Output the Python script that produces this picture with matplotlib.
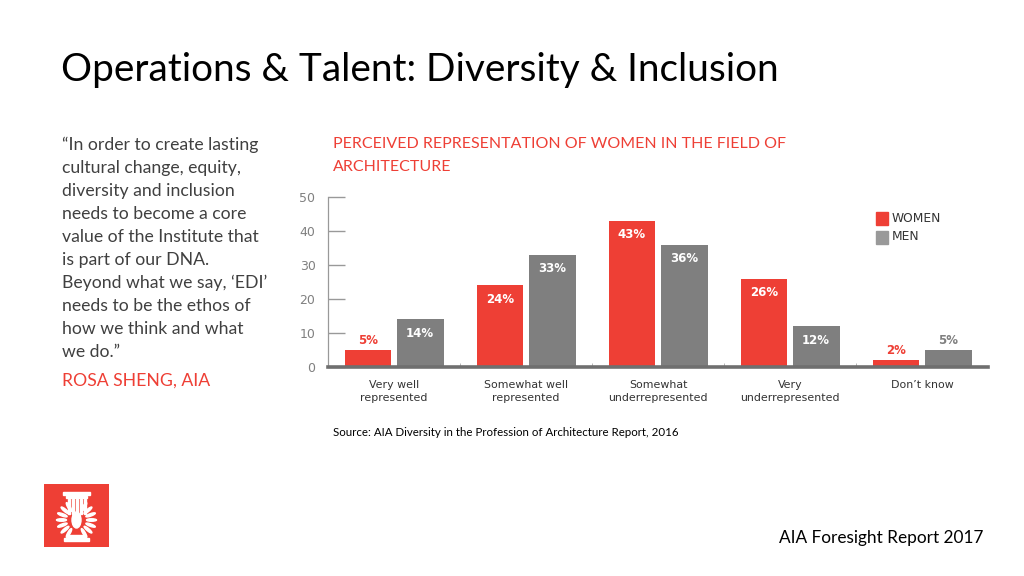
import numpy as np
import matplotlib.pyplot as plt
from matplotlib.patches import Rectangle, Ellipse

categories = ["Very well\nrepresented", "Somewhat well\nrepresented", "Somewhat\nunderrepresented",
              "Very\nunderrepresented", "Don\u2019t know"]
women = [5, 24, 43, 26, 2]
men = [14, 33, 36, 12, 5]
yticks = [0, 10, 20, 30, 40, 50]

quote = ["\u201cIn order to create lasting",
         "cultural change, equity,",
         "diversity and inclusion",
         "needs to become a core",
         "value of the Institute that",
         "is part of our DNA.",
         "Beyond what we say, \u2018EDI\u2019",
         "needs to be the ethos of",
         "how we think and what",
         "we do.\u201d"]

RED = "#ee3f35"
GRAY = "#7f7f7f"
TXT = "#404040"
W, H = 1024, 576

fig = plt.figure(figsize=(10.24, 5.76), dpi=100)
fig.patch.set_facecolor("white")

def fx(px):
    return px / W

def fy(py):
    return 1 - py / H

# slide texts
fig.text(fx(61), fy(70), "Operations & Talent: Diversity & Inclusion", family="Lato",
         fontsize=27.9, color="black", va="center", ha="left")
for i, line in enumerate(quote):
    fig.text(fx(62), fy(145 + 23 * i), line, family="Lato", fontsize=12.7,
             color=TXT, va="center", ha="left")
fig.text(fx(62), fy(381), "ROSA SHENG, AIA", family="Lato", fontsize=12.7,
         color=RED, va="center")
fig.text(fx(333), fy(144), "PERCEIVED REPRESENTATION OF WOMEN IN THE FIELD OF",
         family="Lato", fontsize=11.5, color=RED, va="center")
fig.text(fx(333), fy(167), "ARCHITECTURE", family="Lato", fontsize=11.5, color=RED, va="center")
fig.text(fx(333), fy(433), "Source: AIA Diversity in the Profession of Architecture Report, 2016",
         family="Lato", fontsize=8.3, color="black", va="center")
fig.text(fx(983), fy(538), "AIA Foresight Report 2017", family="Lato", fontsize=12.4,
         color="black", va="center", ha="right")

# chart
ax = fig.add_axes([fx(328), fy(367), fx(988) - fx(328), (367 - 197) / H])
x = np.arange(len(categories))
bw = 0.356
off = 0.197
bw_bars = ax.bar(x - off, women, bw, color=RED, zorder=2)
bm_bars = ax.bar(x + off, men, bw, color=GRAY, zorder=2)
ax.set_xlim(-0.5, 4.5)
ax.set_ylim(0, 50)
ax.set_yticks(yticks)
ax.tick_params(axis="y", direction="in", length=12, width=1, color="#999999",
               labelcolor="#808080", labelsize=9, pad=9)
ax.set_xticks(x)
ax.set_xticklabels(categories, fontsize=7.9, color="#333333", linespacing=1.4)
ax.tick_params(axis="x", length=0, pad=9)
ax.set_xticks(x[:-1] + 0.5, minor=True)
ax.tick_params(axis="x", which="minor", direction="in", length=3, color="#aaaaaa")
for s in ["top", "right"]:
    ax.spines[s].set_visible(False)
ax.spines["left"].set_color("#999999")
ax.spines["left"].set_linewidth(0.9)
ax.spines["bottom"].set_color("#6f6f6f")
ax.spines["bottom"].set_linewidth(2.6)
ax.spines["bottom"].set_zorder(3)

for bars, vals, col in [(bw_bars, women, RED), (bm_bars, men, GRAY)]:
    for b, v in zip(bars, vals):
        cx = b.get_x() + b.get_width() / 2
        if v < 7:
            ax.annotate(f"{v}%", (cx, v), xytext=(0, 7), textcoords="offset points",
                        ha="center", va="center", color=col, fontsize=8.5, fontweight="bold")
        else:
            ax.annotate(f"{v}%", (cx, v), xytext=(0, -10), textcoords="offset points",
                        ha="center", va="center", color="white", fontsize=8.5, fontweight="bold")

# legend
fig.patches.append(Rectangle((fx(876), fy(225)), 12 / W, 13 / H, color=RED, transform=fig.transFigure))
fig.patches.append(Rectangle((fx(876), fy(244)), 12 / W, 13 / H, color="#999999", transform=fig.transFigure))
fig.text(fx(892), fy(218), "WOMEN", fontsize=8.8, color="#333333", va="center")
fig.text(fx(892), fy(237), "MEN", fontsize=8.8, color="#333333", va="center")

# logo
lax = fig.add_axes([fx(44), fy(547), 65 / W, 63 / H])
lax.set_xlim(0, 65)
lax.set_ylim(0, 63)
lax.axis("off")
lax.add_patch(Rectangle((0, 0), 65, 63, color=RED))
lax.add_patch(Rectangle((19, 52), 27, 3, color="white"))
lax.add_patch(Rectangle((22, 49), 21, 2, color="white"))
for cx in [24, 28, 32, 36, 40]:
    lax.add_patch(Rectangle((cx, 33), 1.5, 15, color="white"))
lax.add_patch(Ellipse((32.5, 27), 9, 16, color="white"))
for ang in np.linspace(-60, 60, 7):
    a = np.radians(ang)
    for side in [-1, 1]:
        lax.add_patch(Ellipse((32.5 + side * 15 * np.cos(a), 27 + 15 * np.sin(a)), 10, 2.5,
                              angle=side * ang, color="white"))
lax.add_patch(Rectangle((20, 6), 25, 3, color="white"))
lax.add_patch(Rectangle((23, 10), 19, 2, color="white"))

fig.savefig("out.png", dpi=100)
